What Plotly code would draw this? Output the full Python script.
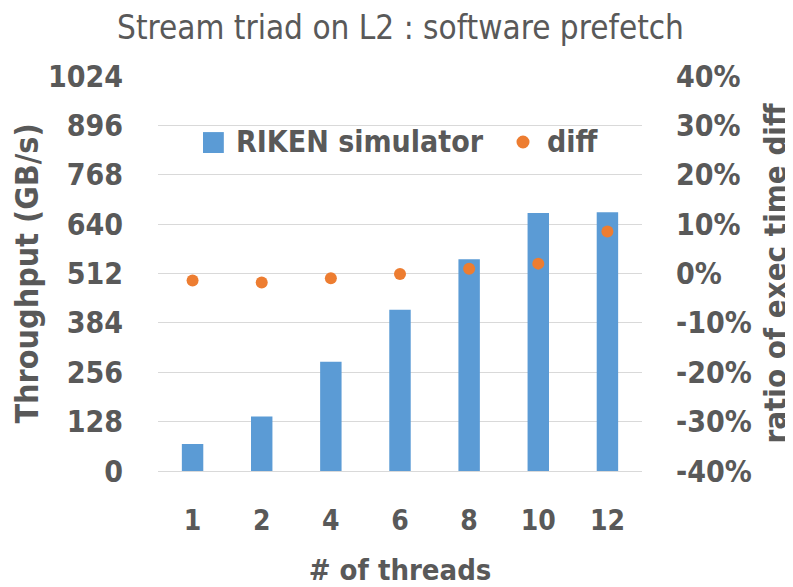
import plotly.graph_objects as go

threads = ["1", "2", "4", "6", "8", "10", "12"]
throughput = [70, 141, 283, 418, 549, 669, 671]
diff = [-0.014, -0.018, -0.0095, -0.001, 0.0095, 0.020, 0.085]

left_ticks = [0, 128, 256, 384, 512, 640, 768, 896, 1024]
right_ticks = [-0.4, -0.3, -0.2, -0.1, 0, 0.1, 0.2, 0.3, 0.4]

FONT = "Liberation Sans Narrow, DejaVu Sans Condensed, DejaVu Sans, sans-serif"
GRAY = "#595959"
BLUE = "#5B9BD5"
ORANGE = "#ED7D31"

fig = go.Figure()
fig.add_trace(go.Bar(x=threads, y=throughput, name="RIKEN simulator",
                     marker=dict(color=BLUE, line=dict(width=0)), yaxis="y", showlegend=False))
fig.add_trace(go.Scatter(x=threads, y=diff, name="diff", mode="markers",
                         marker=dict(color=ORANGE, size=12), yaxis="y2", showlegend=False))

# legend drawn in paper coordinates
fig.add_shape(type="rect", xref="paper", yref="paper", x0=0.093, x1=0.136, y0=0.805, y1=0.858,
              fillcolor=BLUE, line=dict(width=0))
fig.add_shape(type="circle", xref="paper", yref="paper", x0=0.7407, x1=0.7676, y0=0.8165, y1=0.8494,
              fillcolor=ORANGE, line=dict(width=0))
fig.add_annotation(text="<b>RIKEN simulator</b>", xref="paper", yref="paper", x=0.157, y=0.833,
                   xanchor="left", yanchor="middle", showarrow=False,
                   font=dict(size=30, color=GRAY, family=FONT))
fig.add_annotation(text="<b>diff</b>", xref="paper", yref="paper", x=0.7996, y=0.833,
                   xanchor="left", yanchor="middle", showarrow=False,
                   font=dict(size=30, color=GRAY, family=FONT))

# page body has an 8px margin, so the figure is 8px smaller and offset
fig.update_layout(
    width=785, height=579,
    margin=dict(l=150, r=151, t=68, b=116),
    paper_bgcolor="white", plot_bgcolor="rgba(0,0,0,0)",
    font=dict(family=FONT, color=GRAY),
    title=dict(text="Stream triad on L2 : software prefetch", x=0.5, xanchor="center",
               y=1 - 19 / 579, yanchor="middle", font=dict(size=33, color=GRAY, family=FONT)),
    bargap=0.69,
    showlegend=False,
    xaxis=dict(type="category", tickvals=threads, ticktext=[f"<b>{t}</b>" for t in threads],
               tickfont=dict(size=28, color=GRAY, family=FONT), automargin=False,
               showgrid=False, showline=False, ticks="", ticklabelstandoff=30,
               title=dict(text="<b># of threads</b>", font=dict(size=29, color=GRAY, family=FONT),
                          standoff=24)),
    yaxis=dict(range=[0, 1024], tickvals=left_ticks, ticktext=[f"<b>{v}</b>" for v in left_ticks],
               tickfont=dict(size=30, color=GRAY, family=FONT), automargin=False,
               showgrid=True, gridcolor="#D9D9D9", gridwidth=1.3, zeroline=True,
               zerolinecolor="#D9D9D9", zerolinewidth=1.3, ticks="", ticklabelstandoff=34,
               title=dict(text="<b>Throughput (GB/s)</b>", font=dict(size=32, color=GRAY, family=FONT),
                          standoff=0)),
    yaxis2=dict(range=[-0.4, 0.4], overlaying="y", side="right", tickvals=right_ticks,
                ticktext=[f"<b>{round(v*100)}%</b>" for v in right_ticks], automargin=False,
                tickfont=dict(size=30, color=GRAY, family=FONT), showgrid=False, zeroline=False,
                ticks="", ticklabelstandoff=33,
                title=dict(text="<b>ratio of exec time diff</b>", font=dict(size=31, color=GRAY, family=FONT),
                           standoff=15)),
)

fig.write_html("out.html")
